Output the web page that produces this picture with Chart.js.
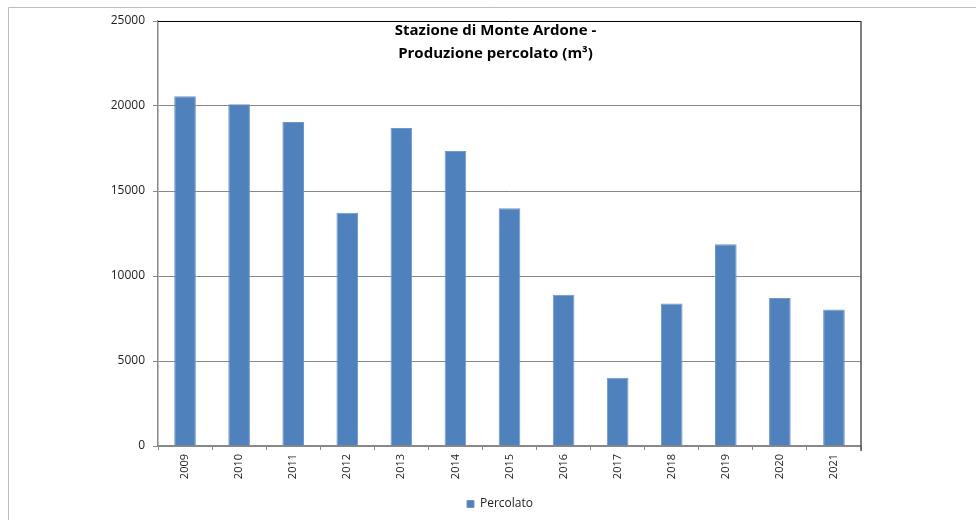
<!DOCTYPE html>
<html>
<head>
<meta charset="utf-8">
<script src="https://cdn.jsdelivr.net/npm/chart.js@4/dist/chart.umd.min.js"></script>
<style>
  html, body { margin: 0; padding: 0; background: #fff; }
  #wrap { width: 976px; height: 520px; }
</style>
</head>
<body>
<div id="wrap"><canvas id="chart" width="976" height="520"></canvas></div>
<script>
// values
const years = ['2009', '2010', '2011', '2012', '2013', '2014', '2015', '2016', '2017', '2018', '2019', '2020', '2021'];
const percolato = [20580, 20100, 19060, 13720, 18700, 17360, 13990, 8890, 4010, 8380, 11870, 8700, 8030];
const titleLines = ['Stazione di Monte Ardone -', 'Produzione percolato (m³)'];
const seriesLabel = 'Percolato';

const FONT = "'Open Sans', 'Liberation Sans', sans-serif";

// frame, plot border and title drawn on top
const framePlugin = {
    id: 'frame',
    afterDraw(chart) {
        const ctx = chart.ctx;
        const a = chart.chartArea;
        ctx.save();
        // outer chart frame
        ctx.strokeStyle = '#bdbdbd';
        ctx.lineWidth = 1;
        ctx.beginPath();
        ctx.moveTo(8.5, chart.height);
        ctx.lineTo(8.5, 7.5);
        ctx.lineTo(chart.width, 7.5);
        ctx.stroke();
        // plot area top + right
        ctx.strokeStyle = '#000';
        ctx.beginPath();
        ctx.moveTo(a.left, a.top + 0.5);
        ctx.lineTo(a.right, a.top + 0.5);
        ctx.stroke();
        ctx.strokeStyle = '#555';
        ctx.lineWidth = 1.5;
        ctx.beginPath();
        ctx.moveTo(a.right, a.top);
        ctx.lineTo(a.right, a.bottom + 5);
        ctx.stroke();
        // title sits inside the plot
        ctx.fillStyle = '#000';
        ctx.font = 'bold 15px ' + FONT;
        ctx.textAlign = 'center';
        ctx.textBaseline = 'alphabetic';
        const cx = a.left + (a.right - a.left) / 2 - 14;
        ctx.fillText(titleLines[0], cx, a.top + 14);
        ctx.fillText(titleLines[1], cx, a.top + 37);
        ctx.restore();
    }
};

Chart.defaults.font.family = FONT;
Chart.defaults.color = '#222';

new Chart(document.getElementById('chart'), {
    type: 'bar',
    data: {
        labels: years,
        datasets: [{
            label: seriesLabel,
            data: percolato,
            backgroundColor: '#4f81bd',
            borderColor: '#6f97c8',
            borderWidth: 1,
            barPercentage: 0.4,
            categoryPercentage: 1.0
        }]
    },
    options: {
        responsive: false,
        animation: false,
        layout: { padding: { left: 24, right: 0, top: 21, bottom: 0 } },
        plugins: {
            title: { display: false },
            tooltip: { enabled: false },
            legend: {
                position: 'bottom',
                labels: {
                    boxWidth: 7,
                    boxHeight: 7,
                    padding: 10,
                    font: { size: 12 },
                    color: '#222'
                }
            }
        },
        scales: {
            x: {
                grid: {
                    offset: true,
                    drawOnChartArea: false,
                    tickLength: 4,
                    color: '#888'
                },
                border: { color: '#888', width: 1.5 },
                ticks: {
                    minRotation: 90,
                    maxRotation: 90,
                    font: { size: 11 },
                    color: '#222',
                    padding: 4
                },
                afterFit(s) { s.height = 42; }
            },
            y: {
                min: 0,
                max: 25000,
                ticks: {
                    stepSize: 5000,
                    font: { size: 12 },
                    color: '#222',
                    padding: 8,
                    callback: v => String(v)
                },
                grid: {
                    color: '#888',
                    tickLength: 5
                },
                border: { color: '#888', width: 1.5 },
                afterFit(s) { s.width = 134; }
            },
            // empty right-hand axis only reserves the blank strip beside the plot
            spacer: {
                position: 'right',
                min: 0,
                max: 1,
                grid: { display: false },
                ticks: { display: false },
                border: { display: false },
                afterFit(s) { s.width = 115; }
            }
        }
    },
    plugins: [framePlugin]
});
</script>
</body>
</html>
